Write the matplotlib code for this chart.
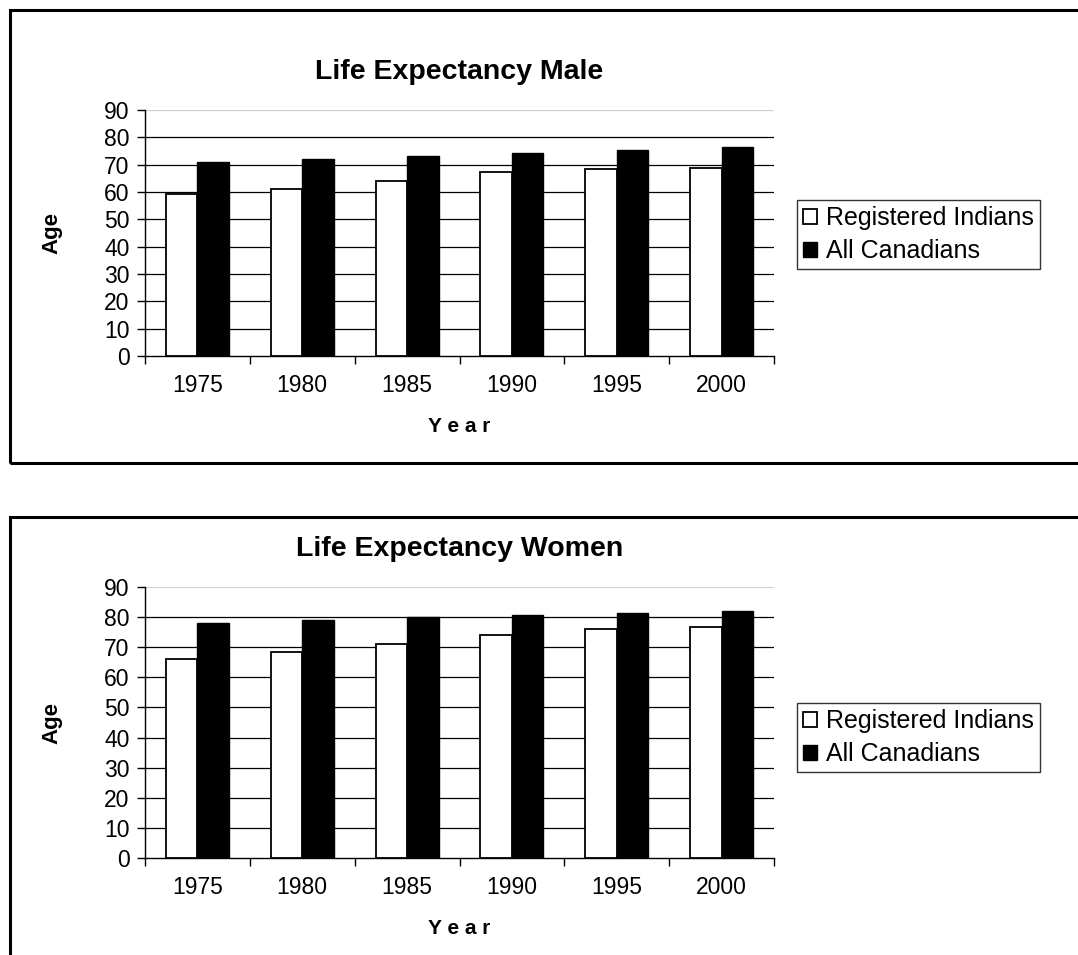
import numpy as np
import matplotlib
matplotlib.use("Agg")
import matplotlib.pyplot as plt
from matplotlib.patches import Rectangle

plt.rcParams['font.family'] = ['Liberation Sans', 'DejaVu Sans']

years = ["1975", "1980", "1985", "1990", "1995", "2000"]
male_indians = [59.3, 61.2, 64.2, 67.2, 68.3, 68.8]
male_canadians = [70.8, 71.9, 73.1, 74.3, 75.5, 76.6]
women_indians = [66.0, 68.3, 71.2, 74.2, 76.0, 76.6]
women_canadians = [77.9, 79.0, 80.2, 80.8, 81.4, 82.0]

W, H = 1078, 955
fig = plt.figure(figsize=(W / 100, H / 100), dpi=100)


def fx(px):
    return px / W


def fy(py):
    return 1 - py / H


def panel(top, bottom, ax_top, ax_bot, title, indians, canadians, leg_top, tpad):
    # outer chart frame (runs off the right edge like the original)
    fig.patches.append(Rectangle((fx(10), fy(bottom)), 1.2, fy(top) - fy(bottom),
                                 transform=fig.transFigure, fill=False,
                                 edgecolor="black", linewidth=2.2, zorder=0))
    ax = fig.add_axes([fx(145), fy(ax_bot), fx(774) - fx(145), fy(ax_top) - fy(ax_bot)])
    x = np.arange(len(years))
    w = 0.3
    ax.bar(x - w / 2, indians, w, color="white", edgecolor="black", linewidth=1.3,
           label="Registered Indians", zorder=3)
    ax.bar(x + w / 2, canadians, w, color="black", edgecolor="black", linewidth=1.0,
           label="All Canadians", zorder=3)
    ax.set_xlim(-0.5, len(years) - 0.5)
    ax.set_ylim(0, 90)
    ax.set_yticks(range(0, 91, 10))
    for v in range(10, 91, 10):
        ax.axhline(v, color="#d0d0d0" if v == 90 else "black", linewidth=0.9, zorder=1)
    ax.set_xticks(x)
    ax.set_xticklabels(years, fontsize=16.5)
    ax.set_xticks(np.arange(-0.5, len(years)), minor=True)
    ax.tick_params(axis="x", which="major", length=0, pad=13)
    ax.tick_params(axis="x", which="minor", length=6, width=1, direction="out")
    ax.tick_params(axis="y", length=6, width=1, direction="out", labelsize=16.5, pad=5)
    for s in ["top", "right"]:
        ax.spines[s].set_visible(False)
    for s in ["left", "bottom"]:
        ax.spines[s].set_linewidth(1.0)
    ax.set_ylabel("Age", fontsize=16, fontweight="bold", labelpad=30)
    ax.set_xlabel("Y e a r", fontsize=15, fontweight="bold", labelpad=14)
    ax.set_title(title, fontsize=20.5, fontweight="bold", pad=22)
    fig.legend(handles=ax.patches[:1] + ax.patches[len(years):len(years) + 1],
               labels=["Registered Indians", "All Canadians"],
               loc="upper left", bbox_to_anchor=(fx(797), fy(leg_top)),
               fontsize=18, frameon=True, fancybox=False, edgecolor="black",
               handlelength=0.55, handleheight=0.55, handletextpad=0.35,
               borderpad=0.25, labelspacing=0.35, borderaxespad=0)
    return ax


panel(10, 463, 110, 356, "Life Expectancy Male", male_indians, male_canadians, 200, 22)
panel(517, 1000, 587, 858, "Life Expectancy Women", women_indians, women_canadians, 703, 22)

fig.savefig("out.png", dpi=100)
